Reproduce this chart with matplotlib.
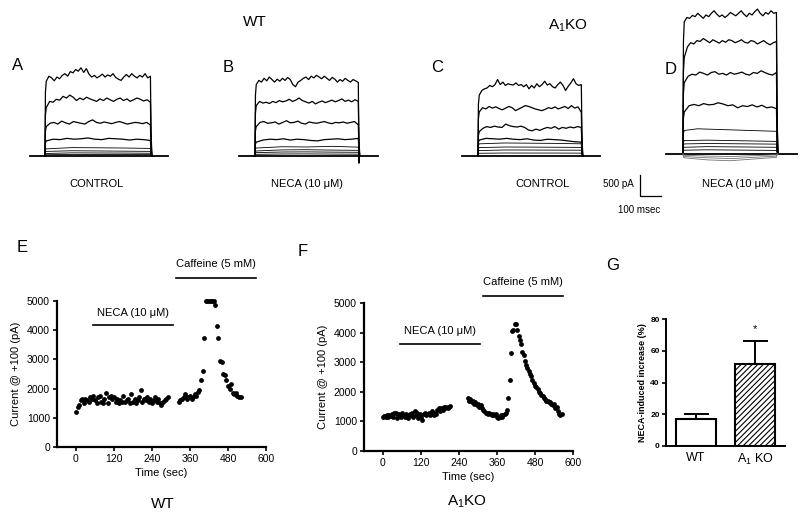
import numpy as np
import matplotlib
matplotlib.use("Agg")
import matplotlib.pyplot as plt

plt.rcParams["font.family"] = ["Liberation Sans", "DejaVu Sans"]
plt.rcParams["mathtext.fontset"] = "custom"
plt.rcParams["mathtext.rm"] = "Liberation Sans"
plt.rcParams["mathtext.it"] = "Liberation Sans:italic"
plt.rcParams["hatch.linewidth"] = 0.8

# ---------------- data ----------------
# whole-cell current traces (pA), plateau samples of each voltage step
A_traces = [
    [1780, 1900, 1860, 1790, 1880, 1840, 1920, 1960, 1900, 2010, 1980, 2060, 2020, 2100, 1990, 2080, 1950, 1880, 1920, 1860,
     1900, 1950, 1880, 1930, 1900, 1960, 1870, 1830, 1800, 1880, 1940, 1880, 1960, 1900, 1860, 1920, 1880, 1960, 1860, 1900],
    [1150, 1300, 1280, 1350, 1330, 1420, 1380, 1450, 1400, 1320, 1380, 1340, 1400, 1360, 1330, 1300, 1360, 1320, 1380, 1340,
     1300, 1350, 1380, 1320, 1360, 1300, 1340, 1380, 1350, 1310, 1340, 1280],
    [700, 780, 800, 760, 830, 790, 760, 820, 800, 780, 760, 820, 860, 800, 780, 810, 790, 770, 800, 820, 790, 760, 780, 800,
     790, 770, 800, 740],
    [360, 400, 390, 420, 400, 410, 430, 400, 390, 420, 410, 400, 380, 400, 390, 370],
    [170, 200, 195, 190, 180],
    [110, 125, 120, 115, 110],
    [60, 75, 72, 70, 65],
    [30, 38, 36, 35, 32],
]
B_traces = [
    [1700, 1800, 1760, 1850, 1790, 1880, 1820, 1760, 1830, 1780, 1850, 1800, 1870, 1820, 1700, 1650, 1760, 1800, 1850, 1880,
     1820, 1900, 1860, 1920, 1880, 1840, 1900, 1850, 1800, 1870, 1830, 1760, 1820, 1780, 1850, 1800, 1760, 1820, 1790, 1750],
    [1200, 1300, 1260, 1280, 1250, 1300, 1270, 1320, 1290, 1310, 1350, 1300, 1330, 1380, 1320, 1290, 1260, 1300, 1240, 1280,
     1310, 1270, 1300, 1330, 1290, 1320, 1360, 1300, 1330, 1290, 1340, 1300],
    [700, 800, 820, 780, 790, 810, 760, 800, 840, 790, 800, 830, 780, 760, 810, 790, 780, 800, 820, 790, 770, 800, 790, 810,
     780, 800, 820, 740],
    [330, 380, 400, 390, 410, 380, 400, 390, 370, 360, 390, 400, 410, 390, 400, 420],
    [190, 220, 215, 230, 210],
    [120, 145, 150, 140, 135],
    [80, 95, 98, 92, 88],
    [40, 48, 50, 46, 44],
]
C_traces = [
    [1450, 1560, 1600, 1620, 1680, 1650, 1700, 1820, 1700, 1760, 1680, 1720, 1700, 1690, 1740, 1680, 1700, 1650, 1700, 1600,
     1680, 1620, 1720, 1650, 1700, 1780, 1690, 1720, 1650, 1620, 1700, 1760, 1680, 1560, 1660, 1740, 1840, 1720, 1680, 1700],
    [1050, 1150, 1120, 1180, 1140, 1170, 1130, 1100, 1140, 1180, 1150, 1080, 1120, 1160, 1200, 1180, 1150, 1120, 1100, 1080,
     1110, 1150, 1130, 1170, 1120, 1150, 1180, 1130, 1200, 1140, 1170, 1040],
    [580, 660, 700, 680, 710, 690, 680, 760, 720, 700, 690, 710, 680, 620, 600, 640, 610, 650, 680, 660, 700, 640, 680, 660,
     690, 670, 700, 680],
    [380, 420, 410, 400, 420, 400, 390, 410, 380, 370, 400, 390, 380, 360, 340, 330],
    [290, 310, 305, 300, 290],
    [200, 214, 212, 208, 205],
    [130, 143, 142, 140, 138],
    [65, 71, 70, 70, 68],
]
D_traces = [
    [3150, 3250, 3230, 3300, 3270, 3350, 3290, 3230, 3310, 3270, 3350, 3410, 3330, 3270, 3310, 3250, 3300, 3370, 3330, 3290,
     3350, 3410, 3330, 3270, 3350, 3310, 3390, 3450, 3350, 3290, 3370, 3330, 3410, 3350, 3370],
    [2300, 2550, 2650, 2620, 2700, 2680, 2750, 2700, 2650, 2720, 2680, 2640, 2700, 2660, 2720, 2700, 2650, 2680, 2720, 2660,
     2640, 2700, 2680, 2620, 2660, 2700, 2640, 2600, 2650, 2680],
    [1700, 1850, 1900, 1880, 1950, 1920, 1880, 1940, 1960, 1900, 1920, 1880, 1940, 1900, 1920, 1950, 1900, 1880, 1940, 1920,
     1980, 1940, 1900, 1880, 1940],
    [1000, 1150, 1180, 1150, 1200, 1170, 1180, 1220, 1190, 1150, 1170, 1100, 1150, 1130, 1170, 1120, 1160, 1100, 1120, 1080],
    [560, 600, 590, 580, 570, 560, 550, 540],
    [320, 330, 320, 310, 300],
    [240, 250, 245, 240, 235],
    [160, 175, 170, 165, 160],
    [90, 100, 95, 90, 85],
    [-30, -50, -60, -40, -20],
    [-60, -90, -110, -80, -50],
    [-90, -140, -160, -120, -80],
]
step_end_ms = {"A": 505, "B": 495, "C": 495, "D": 448}

# current at +100 mV (pA) vs time (sec)
E_t1 = list(range(0, 295, 5))
E_i1 = [1200, 1380, 1450, 1600, 1650, 1500, 1650, 1620, 1550, 1700, 1650, 1750, 1600, 1500, 1700, 1750, 1550, 1500, 1650, 1850,
        1500, 1700, 1750, 1650, 1700, 1550, 1650, 1500, 1600, 1550, 1750, 1550, 1600, 1650, 1500, 1800, 1550, 1650, 1500, 1600,
        1700, 1950, 1550, 1650, 1600, 1700, 1550, 1650, 1500, 1600, 1700, 1550, 1650, 1500, 1450, 1550, 1600, 1650, 1700]
E_t2 = list(range(325, 525, 5))
E_i2 = [1550, 1600, 1650, 1700, 1800, 1650, 1700, 1750, 1650, 1700, 1800, 1750, 1900, 1950, 2300, 2600, 3750, 5000, 5000, 5000,
        5000, 5000, 5000, 4850, 4150, 3750, 2950, 2900, 2500, 2450, 2300, 2100, 2000, 2150, 1850, 1800, 1850, 1750, 1700, 1700]

F_t1 = list(range(0, 216, 4))
F_i1 = [1150, 1180, 1150, 1200, 1150, 1200, 1180, 1250, 1150, 1300, 1280, 1100, 1200, 1250, 1150, 1300, 1200, 1150, 1250, 1200,
        1100, 1250, 1200, 1300, 1150, 1350, 1200, 1300, 1100, 1250, 1150, 1050, 1250, 1300, 1200, 1250, 1300, 1200, 1250, 1350,
        1200, 1300, 1250, 1400, 1450, 1350, 1450, 1400, 1500, 1450, 1480, 1450, 1500, 1520]
F_t2 = list(range(268, 568, 4))
F_i2 = [1800, 1700, 1750, 1650, 1700, 1600, 1650, 1550, 1600, 1500, 1550, 1450, 1400, 1350, 1300, 1300, 1250, 1300, 1250, 1200,
        1250, 1200, 1250, 1150, 1100, 1150, 1200, 1150, 1200, 1250, 1300, 1400, 1800, 2400, 3300, 4050, 4100, 4300, 4300, 4100,
        3900, 3750, 3600, 3350, 3250, 3050, 2900, 2800, 2700, 2600, 2550, 2400, 2300, 2200, 2150, 2100, 2000, 1950, 1900, 1850,
        1800, 1750, 1700, 1700, 1650, 1650, 1600, 1550, 1600, 1450, 1500, 1350, 1250, 1200, 1250]

# NECA-induced increase (%)
G_groups = ["WT", "A$_1$ KO"]
G_means = [17, 51.7]
G_sem = [3.4, 14.6]

# ---------------- figure ----------------
W, H = 800, 517
fig = plt.figure(figsize=(8, 5.17), dpi=100)
MS = 100 / 21.0   # ms per pixel (scale bar)
PA = 500 / 21.0   # pA per pixel


def px_axes(x0, y0, x1, y1):
    return fig.add_axes([x0 / W, 1 - y1 / H, (x1 - x0) / W, (y1 - y0) / H])


def trace_panel(box, x_step, y_base, traces, dur, base_span, tail=None):
    ax = px_axes(*box)
    ax.set_xlim((box[0] - x_step) * MS, (box[2] - x_step) * MS)
    ax.set_ylim((y_base - box[3]) * PA, (y_base - box[1]) * PA)
    ax.axis("off")
    ax.plot(base_span, [0, 0], color="black", lw=1.3)
    for k, vals in enumerate(traces):
        n = len(vals)
        t = list(np.linspace(6, dur - 3, n))
        xs = [0, 2] + t + [dur, dur + 4]
        ys = [0, vals[0] * 0.85] + list(vals) + [vals[-1] * 0.3, 0]
        if tail is not None and k == 0:
            xs = [0, 2] + t + [dur, dur, dur + 4]
            ys = [0, vals[0] * 0.85] + list(vals) + [tail, tail * 0.3, 0]
        col = "black" if vals[0] >= 0 else "0.45"
        ax.plot(xs, ys, color=col, lw=0.9 if k < 4 else 0.6)
    return ax


trace_panel((25, 0, 185, 170), 45, 156, A_traces, step_end_ms["A"], [-71, 586])
trace_panel((235, 0, 395, 170), 255, 156, B_traces, step_end_ms["B"], [-76, 586], tail=-170)
trace_panel((455, 0, 615, 170), 478, 156, C_traces, step_end_ms["C"], [-76, 581])
axD = trace_panel((660, 0, 800, 170), 683, 154, D_traces, step_end_ms["D"], [-81, 543])

# scale bar (500 pA / 100 msec)
sb_x = (640 - 683) * MS
sb_y = (154 - 196) * PA
axD.plot([sb_x, sb_x, sb_x + 100], [sb_y + 500, sb_y, sb_y], color="black", lw=0.9, clip_on=False)
fig.text(603 / W, 1 - 184 / H, "500 pA", fontsize=7, va="center")
fig.text(639 / W, 1 - 210 / H, "100 msec", fontsize=7, ha="center", va="center")

# group and panel labels
fig.text(255 / W, 1 - 22 / H, "WT", fontsize=11, ha="center", va="center")
fig.text(568 / W, 1 - 26 / H, "A$_1$KO", fontsize=11, ha="center", va="center")
for lab, x, y in [("A", 18, 65), ("B", 228, 68), ("C", 437, 68), ("D", 671, 70)]:
    fig.text(x / W, 1 - y / H, lab, fontsize=12, ha="center", va="center")
for lab, x in [("CONTROL", 97), ("NECA (10 \u03bcM)", 307), ("CONTROL", 542), ("NECA (10 \u03bcM)", 738)]:
    fig.text(x / W, 1 - 184 / H, lab, fontsize=8, ha="center", va="center")


def time_course(box, t1, i1, t2, i2, neca_y, caf_y):
    ax = px_axes(*box)
    ax.scatter(t1, i1, s=12, color="black", clip_on=False, zorder=3, linewidths=0)
    ax.scatter(t2, i2, s=12, color="black", clip_on=False, zorder=3, linewidths=0)
    ax.set_xlim(-60, 600)
    ax.set_ylim(0, 5000)
    ax.set_xticks([0, 120, 240, 360, 480, 600])
    ax.set_yticks([0, 1000, 2000, 3000, 4000, 5000])
    for s in ["top", "right"]:
        ax.spines[s].set_visible(False)
    for s in ["left", "bottom"]:
        ax.spines[s].set_linewidth(1.6)
    ax.tick_params(direction="out", length=3, width=1.2, labelsize=7.5, pad=2)
    ax.set_xlabel("Time (sec)", fontsize=8, labelpad=3)
    ax.set_ylabel("Current @ +100 (pA)", fontsize=8, labelpad=4)
    ax.plot([54, 306], [neca_y, neca_y], color="black", lw=1.2, clip_on=False)
    ax.text(180, neca_y + 420, "NECA (10 \u03bcM)", fontsize=8, ha="center", va="center")
    ax.plot([316, 568], [caf_y, caf_y], color="black", lw=1.2, clip_on=False)
    ax.text(442, caf_y + 480, "Caffeine (5 mM)", fontsize=8, ha="center", va="center", clip_on=False)
    return ax


time_course((57, 301, 266, 447), E_t1, E_i1, E_t2, E_i2, 4178, 5788)
time_course((364, 303, 573, 451), F_t1, F_i1, F_t2, F_i2, 3626, 5225)
fig.text(22 / W, 1 - 248 / H, "E", fontsize=12, ha="center", va="center")
fig.text(303 / W, 1 - 252 / H, "F", fontsize=12, ha="center", va="center")
fig.text(163 / W, 1 - 504 / H, "WT", fontsize=11, ha="center", va="center")
fig.text(467 / W, 1 - 502 / H, "A$_1$KO", fontsize=11, ha="center", va="center")

# panel G bar chart
axG = px_axes(666, 319, 785, 446)
xpos = [0, 1]
axG.errorbar(xpos, G_means, yerr=[[0, 0], G_sem], fmt="none", ecolor="black", elinewidth=1.4,
             capsize=9, capthick=1.4, zorder=1)
axG.bar(xpos[0], G_means[0], width=0.67, color="white", edgecolor="black", linewidth=1.5, zorder=2)
axG.bar(xpos[1], G_means[1], width=0.67, color="white", edgecolor="black", linewidth=1.5, hatch="//////", zorder=2)
axG.set_xlim(-0.5, 1.5)
axG.set_ylim(0, 80)
axG.set_yticks([0, 20, 40, 60, 80])
axG.set_xticks(xpos)
axG.set_xticklabels(G_groups, fontsize=9)
for s in ["top", "right"]:
    axG.spines[s].set_visible(False)
for s in ["left", "bottom"]:
    axG.spines[s].set_linewidth(1.4)
axG.tick_params(axis="y", direction="out", length=3, width=1.2, labelsize=6, pad=1.5)
axG.tick_params(axis="x", length=0, pad=4)
for lbl in axG.get_yticklabels():
    lbl.set_fontweight("bold")
axG.set_ylabel("NECA-induced increase (%)", fontsize=6.5, fontweight="bold", labelpad=2)
axG.text(1, 73.7, "*", fontsize=8, ha="center", va="center")
fig.text(613 / W, 1 - 265 / H, "G", fontsize=12, ha="center", va="center")

fig.savefig("out.png", dpi=100)
